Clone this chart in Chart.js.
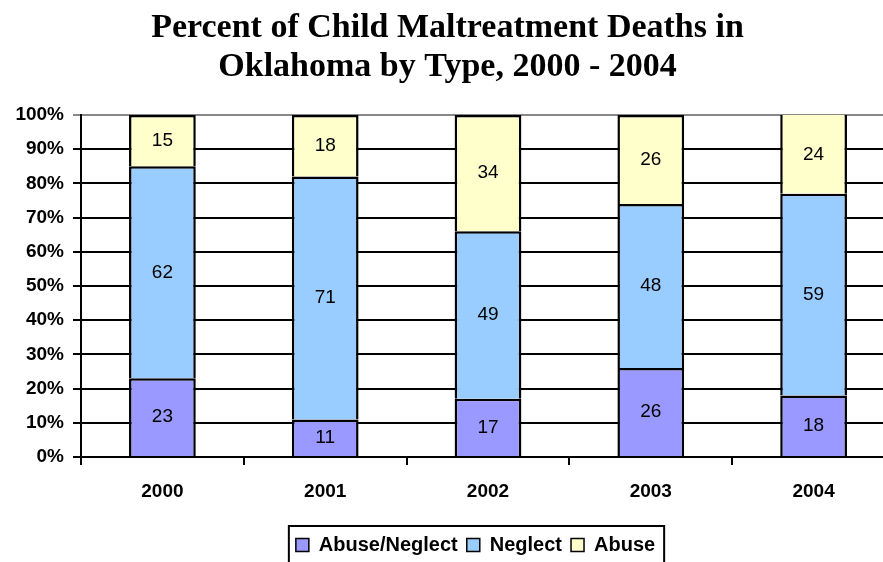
<!DOCTYPE html>
<html>
<head>
<meta charset="utf-8">
<script src="https://cdn.jsdelivr.net/npm/chart.js@4"></script>
<style>
  html, body { margin: 0; padding: 0; overflow: hidden; background: #fff; }
  #wrap { width: 895px; height: 565px; }
</style>
</head>
<body>
<div id="wrap"><canvas id="chart" width="895" height="565"></canvas></div>
<script>
const years = ["2000", "2001", "2002", "2003", "2004"]
const abuseNeglect = [23, 11, 17, 26, 18]
const neglect = [62, 71, 49, 48, 59]
const abuse = [15, 18, 34, 26, 24]
const yTicks = [0, 10, 20, 30, 40, 50, 60, 70, 80, 90, 100]

const colors = ["#9999FF", "#99CCFF", "#FFFFCC"]
const sans = "'Liberation Sans', Arial, sans-serif"
const legendShift = 28

// numbers in the middle of each segment
const segmentLabels = {
  id: "segmentLabels",
  afterDatasetsDraw(chart) {
    const { ctx } = chart;
    ctx.save();
    ctx.font = "19px " + sans;
    ctx.fillStyle = "#000";
    ctx.textAlign = "center";
    ctx.textBaseline = "middle";
    chart.data.datasets.forEach((ds, i) => {
      chart.getDatasetMeta(i).data.forEach((bar, j) => {
        const top = Math.max(bar.y, chart.chartArea.top);
        ctx.fillText(ds.data[j], bar.x, (top + bar.base) / 2);
      });
    });
    ctx.restore();
  }
}

// legend sits a bit right of centre, with a black frame round it
const legendFrame = {
  id: "legendFrame",
  afterLayout(chart) {
    chart.legend.left += legendShift;
    chart.legend.right += legendShift;
  },
  afterDraw(chart) {
    const boxes = chart.legend.legendHitBoxes;
    if (!boxes.length) return;
    const first = boxes[0], last = boxes[boxes.length - 1];
    const { ctx } = chart;
    ctx.save();
    ctx.strokeStyle = "#000";
    ctx.lineWidth = 2;
    ctx.strokeRect(first.left - 7, first.top - 9, last.left + last.width - first.left + 16, 44);
    ctx.restore();
  }
}

new Chart("chart", {
  type: "bar",
  data: {
    labels: years,
    datasets: [
      { label: "Abuse/Neglect", data: abuseNeglect, backgroundColor: colors[0] },
      { label: "Neglect", data: neglect, backgroundColor: colors[1] },
      { label: "Abuse", data: abuse, backgroundColor: colors[2] }
    ].map(d => ({
      ...d,
      borderColor: "#000",
      borderWidth: { top: 2.5, left: 2.5, right: 2.5, bottom: 0 },
      borderSkipped: false,
      barPercentage: 0.41,
      categoryPercentage: 1
    }))
  },
  options: {
    responsive: false,
    animation: false,
    layout: { padding: 0 },
    plugins: {
      title: {
        display: true,
        text: ["Percent of Child Maltreatment Deaths in", "Oklahoma by Type, 2000 - 2004"],
        color: "#000",
        font: { family: "'Liberation Serif', serif", size: 34, weight: "bold", lineHeight: 1.147 },
        padding: { top: 9, bottom: 28 }
      },
      legend: {
        position: "bottom",
        labels: {
          color: "#000",
          boxWidth: 13,
          boxHeight: 13,
          padding: 9,
          font: { family: sans, size: 20, weight: "bold" },
          generateLabels: (chart) => chart.data.datasets.map((ds, i) => ({
            text: ds.label, fillStyle: ds.backgroundColor, strokeStyle: "#000", lineWidth: 1.5, datasetIndex: i
          }))
        }
      },
      tooltip: { enabled: false }
    },
    scales: {
      x: {
        stacked: true,
        offset: true,
        border: { color: "#000", width: 2 },
        grid: { offset: true, drawOnChartArea: false, color: "#000", lineWidth: 2, tickLength: 8 },
        ticks: { color: "#000", padding: 15, font: { family: sans, size: 19, weight: "bold" } },
        afterFit: (s) => { s.height = 69; }
      },
      y: {
        stacked: true,
        min: 0,
        max: 100,
        border: { color: "#000", width: 2 },
        afterBuildTicks: (s) => { s.ticks = yTicks.map(v => ({ value: v })); },
        grid: {
          color: (c) => c.tick && c.tick.value === 100 ? "#888" : "#000",
          lineWidth: 2,
          tickLength: 8
        },
        ticks: {
          color: "#000",
          padding: 9,
          callback: (v) => v + "%",
          font: { family: sans, size: 19, weight: "bold" }
        },
        afterFit: (s) => { s.width = 81; }
      }
    }
  },
  plugins: [segmentLabels, legendFrame]
});
</script>
</body>
</html>
